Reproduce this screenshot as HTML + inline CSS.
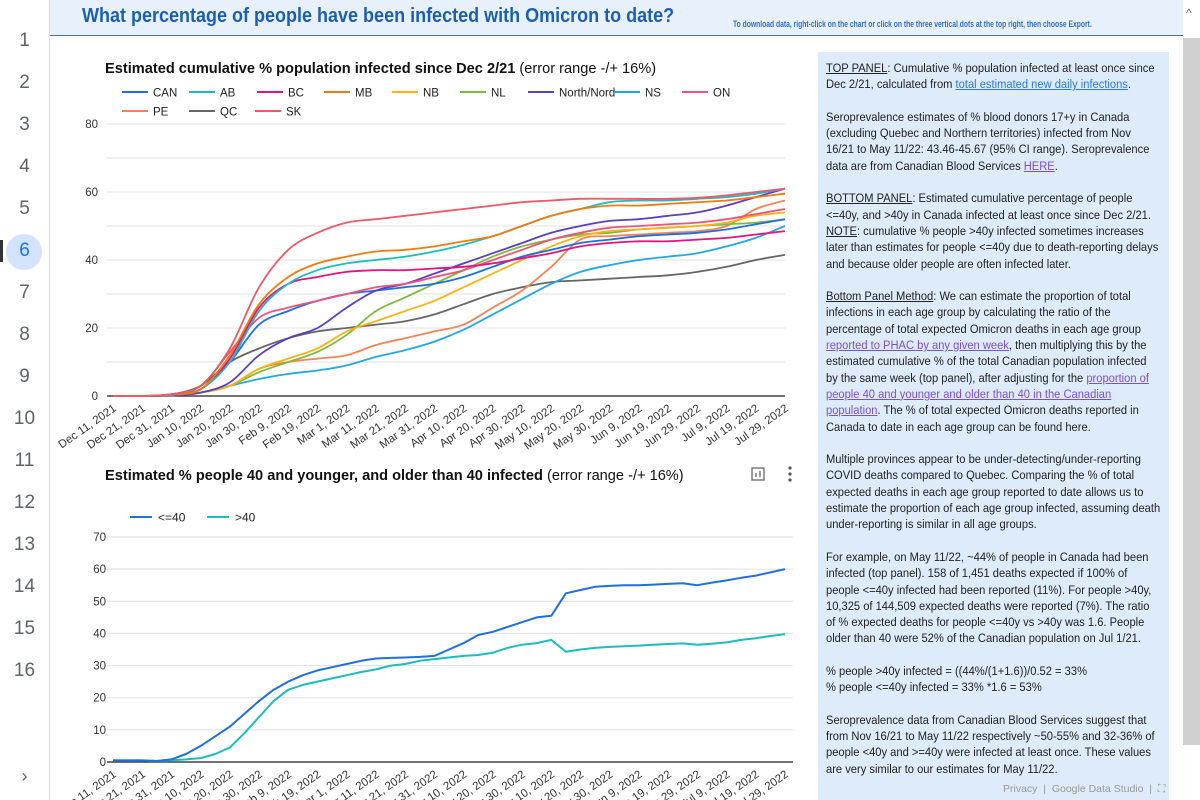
<!DOCTYPE html>
<html><head><meta charset="utf-8">
<style>
html,body{margin:0;padding:0;width:1200px;height:800px;overflow:hidden;background:#fff;font-family:"Liberation Sans",sans-serif;}
#side{position:absolute;left:0;top:0;width:49px;height:800px;border-right:1px solid #dadce0;background:#fff;}
.pn{position:absolute;left:0;width:49px;text-align:center;font-size:19px;color:#5f6368;}
#hdr{position:absolute;left:50px;top:0;width:1133px;height:35px;background:#e8f1fb;border-bottom:1.5px solid #4a6fa8;}
#hdr h1{position:absolute;left:32px;top:5px;margin:0;font-size:20px;color:#1a5fb4;font-weight:bold;font-family:"Liberation Sans",sans-serif;transform:scaleX(0.9);transform-origin:left;white-space:nowrap;}
#hdr .dl{position:absolute;left:683px;top:19px;font-size:9px;font-weight:bold;color:#2e6fc7;white-space:nowrap;transform:scaleX(0.75);transform-origin:left;}
#up{position:absolute;left:1186px;top:6px;font-size:12px;color:#666;}
#panel{position:absolute;left:818px;top:52px;width:351px;height:748px;background:#ddebfa;overflow:hidden;}
#panel .tx{position:absolute;left:8px;top:8px;width:372px;font-size:12.4px;line-height:16.3px;color:#222;transform:scaleX(0.9);transform-origin:left top;}
#panel p{margin:0 0 16.3px 0;}
#panel u{text-decoration:underline;}
#panel a{color:#7b4fd6;text-decoration:underline;}
#panel a.b{color:#2a7ae2;}
#scroll{position:absolute;left:1183px;top:38px;width:17px;height:707px;background:#d0d0d0;}
#foot{position:absolute;left:1003px;top:783px;font-size:10.5px;color:#999;z-index:5;white-space:nowrap;}
svg{position:absolute;left:0;top:0;}
</style></head><body>
<div id="side"></div>
<div id="hdr">
<h1>What percentage of people have been infected with Omicron to date?</h1>
<div class="dl">To download data, right-click on the chart or click on the three vertical dots at the top right, then choose Export.</div>
</div>
<div id="up">^</div>
<div id="panel"><div class="tx">
<p><u>TOP PANEL</u>: Cumulative % population infected at least once since Dec 2/21, calculated from <a class="b">total estimated new daily infections</a>.</p>
<p>Seroprevalence estimates of % blood donors 17+y in Canada (excluding Quebec and Northern territories) infected from Nov 16/21 to May 11/22: 43.46-45.67 (95% CI range). Seroprevalence data are from Canadian Blood Services <a>HERE</a>.</p>
<p><u>BOTTOM PANEL</u>: Estimated cumulative percentage of people &lt;=40y, and &gt;40y in Canada infected at least once since Dec 2/21. <u>NOTE</u>: cumulative % people &gt;40y infected sometimes increases later than estimates for people &lt;=40y due to death-reporting delays and because older people are often infected later.</p>
<p><u>Bottom Panel Method</u>: We can estimate the proportion of total infections in each age group by calculating the ratio of the percentage of total expected Omicron deaths in each age group <a>reported to PHAC by any given week</a>, then multiplying this by the estimated cumulative % of the total Canadian population infected by the same week (top panel), after adjusting for the <a>proportion of people 40 and younger and older than 40 in the Canadian population</a>. The % of total expected Omicron deaths reported in Canada to date in each age group can be found here.</p>
<p>Multiple provinces appear to be under-detecting/under-reporting COVID deaths compared to Quebec. Comparing the % of total expected deaths in each age group reported to date allows us to estimate the proportion of each age group infected, assuming death under-reporting is similar in all age groups.</p>
<p>For example, on May 11/22, ~44% of people in Canada had been infected (top panel). 158 of 1,451 deaths expected if 100% of people &lt;=40y infected had been reported (11%). For people &gt;40y, 10,325 of 144,509 expected deaths were reported (7%). The ratio of % expected deaths for people &lt;=40y vs &gt;40y was 1.6. People older than 40 were 52% of the Canadian population on Jul 1/21.</p>
<p>% people &gt;40y infected = ((44%/(1+1.6))/0.52 = 33%<br>% people &lt;=40y infected = 33% *1.6 = 53%</p>
<p>Seroprevalence data from Canadian Blood Services suggest that from Nov 16/21 to May 11/22 respectively ~50-55% and 32-36% of people &lt;40y and &gt;=40y were infected at least once. These values are very similar to our estimates for May 11/22.</p>
</div></div>
<div id="scroll"></div>
<div id="foot">Privacy &nbsp;|&nbsp; Google Data Studio &nbsp;| &nbsp;⛶</div>
<svg id="chart" width="1200" height="800" xmlns="http://www.w3.org/2000/svg"></svg>
<script>
const tickLabels = ["Dec 11, 2021","Dec 21, 2021","Dec 31, 2021","Jan 10, 2022","Jan 20, 2022","Jan 30, 2022","Feb 9, 2022","Feb 19, 2022","Mar 1, 2022","Mar 11, 2022","Mar 21, 2022","Mar 31, 2022","Apr 10, 2022","Apr 20, 2022","Apr 30, 2022","May 10, 2022","May 20, 2022","May 30, 2022","Jun 9, 2022","Jun 19, 2022","Jun 29, 2022","Jul 9, 2022","Jul 19, 2022","Jul 29, 2022"];
const seriesNames = ["CAN","AB","BC","MB","NB","NL","North/Nord","NS","ON","PE","QC","SK"];
const seriesColors = ["#1f6fe0","#1cbdc0","#e6127f","#f07b0f","#f9b413","#7dba3c","#5b3fbf","#21a8e8","#f0527a","#f78257","#666666","#ef5866"];
const valCAN = [0,0,0.4,2,10,21,25,28,30,31,32,33,35,38,41,43,45,46,47,47.5,48,49,50.5,52];
const valAB = [0,0,0.3,2,10,25,33,37,39,40,41,42.5,44.5,47,50,53,55,57,57.5,57.5,58,58.5,59.5,61];
const valBC = [0,0,0.3,2,11,26,33,35,36.5,37,37,37.5,38,39,40.5,42,44,45,45.5,45.5,46,46.5,47.5,48.5];
const valMB = [0,0,0.5,2,12,27,35,39,41,42.5,43,44,45.5,47,50,53,55,56,56,56.5,57,57.5,58.5,59.5];
const valNB = [0,0,0.2,1,3,8,11,14,19,22,25,28,32,36,40,44,47,48.5,49,49.5,50,51,53,54];
const valNL = [0,0,0.2,1,3,7,10,13,18,25,29,33,37,41,44,46,47.5,48,49,49.5,50,50.5,51,52];
const valNorth = [0,0,0.2,1,4,12,17,20,26,31,33,36,39,42,45,48,50,51.5,52,53,54,56,58.5,61];
const valNS = [0,0,0.2,1,3,5,6.5,7.5,9,11.5,13.5,16,19.5,24,28.5,33,36.5,38.5,40,41,42,44,46.5,50];
const valON = [0,0,0.5,3,13,23,26,28,30,32,33,35,37,40,43,46,48,49.5,50,50.5,51,52,53.5,55];
const valPE = [0,0,0.2,1,3,8,10,11,12,15,17,19,21,26,31,38,46,47,47.5,48,48.5,50,55,57.5];
const valQC = [0,0,0.5,3,10,14,17,19,20,21,22,24,27,30,32,33.5,34,34.5,35,35.5,36.5,38,40,41.5];
const valSK = [0,0,0.5,3,14,32,43,48,51,52,53,54,55,56,57,57.5,58,58,58,58,58.3,59,60,61];
const topYTicks = [0,20,40,60,80];
const ageNames = ["<=40",">40"];
const ageColors = ["#1f6fe0","#1cbdc0"];
// values every 5 days, Dec 11 2021 .. Jul 29 2022
const valUnder40 = [0.5,0.5,0.5,0.3,0.8,2.5,5,8,11,15,19,22.5,25,27,28.5,29.5,30.5,31.5,32.2,32.4,32.5,32.7,33,35,37,39.5,40.5,42,43.5,45,45.5,52.5,53.5,54.5,54.8,55,55,55.2,55.4,55.6,55,55.8,56.5,57.3,58,59,60];
const valOver40 = [0.5,0.5,0.5,0.3,0.5,0.8,1.2,2.5,4.5,9,14,19,22.5,24,25,26,27,28,28.8,30,30.5,31.5,32,32.5,33,33.3,34,35.5,36.5,37,38,34.3,35,35.5,35.8,36,36.2,36.5,36.7,36.9,36.5,36.8,37.2,38,38.5,39.2,39.8];
const botYTicks = [0,10,20,30,40,50,60,70];
const pageNums = [1,2,3,4,5,6,7,8,9,10,11,12,13,14,15,16];

const NS="http://www.w3.org/2000/svg";
const svg=document.getElementById('chart');
function mk(tag,attrs,parent){const e=document.createElementNS(NS,tag);for(const k in attrs)e.setAttribute(k,attrs[k]);(parent||svg).appendChild(e);return e;}
function txt(s,attrs,parent){const e=mk('text',attrs,parent);e.textContent=s;return e;}

const side=document.getElementById('side');
pageNums.forEach((n,i)=>{
  const y=42+i*42;
  if(n===6){const c=document.createElement('div');c.style.cssText='position:absolute;left:6px;top:'+(y-18)+'px;width:36px;height:36px;border-radius:50%;background:#d3e3fd;';
    
    
    side.appendChild(c);}
  const d=document.createElement('div');d.className='pn';d.style.top=(y-12)+'px';d.textContent=n;
  if(n===6)d.style.color='#1a73e8';
  
  
  side.appendChild(d);
});
const mark=document.createElement('div');mark.style.cssText='position:absolute;left:0;top:240px;width:3px;height:22px;background:#333;';


side.appendChild(mark);
const chev=document.createElement('div');chev.style.cssText='position:absolute;left:0;width:49px;top:766px;text-align:center;font-size:18px;color:#5f6368;';chev.textContent='›';


side.appendChild(chev);

function smoothPath(pts){
  let d='M'+pts[0][0]+','+pts[0][1];
  for(let i=0;i<pts.length-1;i++){
    const p0=pts[Math.max(0,i-1)],p1=pts[i],p2=pts[i+1],p3=pts[Math.min(pts.length-1,i+2)];
    const c1x=p1[0]+(p2[0]-p0[0])/6,c1y=p1[1]+(p2[1]-p0[1])/6;
    const c2x=p2[0]-(p3[0]-p1[0])/6,c2y=p2[1]-(p3[1]-p1[1])/6;
    d+=' C'+c1x.toFixed(1)+','+c1y.toFixed(1)+' '+c2x.toFixed(1)+','+c2y.toFixed(1)+' '+p2[0].toFixed(1)+','+p2[1].toFixed(1);
  }
  return d;
}
function xAxisLabels(g,xf,y0){
  tickLabels.forEach((t,i)=>{
    const x=xf(i);
    const e=txt(t,{x:x+4,y:y0+14,'text-anchor':'end','font-size':'11.5','fill':'#333',transform:'rotate(-35 '+(x+4)+' '+(y0+14)+')'},g);
    
    
  });
}

// ---- TOP CHART ----
const T={x0:113,x1:785,y0:396,yMax:80,ph:272};
const tx=i=>T.x0+i*(T.x1-T.x0)/(tickLabels.length-1);
const ty=v=>T.y0-v/T.yMax*T.ph;
const gTop=mk('g',{});


const tt=txt('',{x:105,y:73,'font-size':'14.6','fill':'#111'},gTop);
tt.innerHTML='<tspan font-weight="bold">Estimated cumulative % population infected since Dec 2/21</tspan> (error range -/+ 16%)';


topYTicks.forEach(v=>{
  const gl=mk('line',{x1:T.x0-6,x2:T.x1,y1:ty(v),y2:ty(v),stroke:v===0?'#444':'#e0e0e0','stroke-width':v===0?1.5:1},gTop);
  
  
  const l=txt(String(v),{x:98,y:ty(v)+4,'text-anchor':'end','font-size':'11.5','fill':'#333'},gTop);
  
  
});
[10,30,50,70].forEach(v=>{const gl=mk('line',{x1:T.x0-6,x2:T.x1,y1:ty(v),y2:ty(v),stroke:'#e0e0e0','stroke-width':1},gTop);
  
  });
xAxisLabels(gTop,tx,T.y0);
const topVals=[valCAN,valAB,valBC,valMB,valNB,valNL,valNorth,valNS,valON,valPE,valQC,valSK];
const drawOrder=[10,7,9,5,4,0,6,8,2,1,3,11];
drawOrder.forEach(k=>{
  const pts=topVals[k].map((v,i)=>[tx(i),ty(v)]);
  const p=mk('path',{d:smoothPath(pts),fill:'none',stroke:seriesColors[k],'stroke-width':1.8},gTop);
  
  
});
const legX=[122,189,257,324,392,460,528,614,682,122,189,255];
seriesNames.forEach((n,k)=>{
  const x=legX[k],y=k<9?92:111;
  const g=mk('g',{},gTop);
  
  
  mk('line',{x1:x,x2:x+26,y1:y,y2:y,stroke:seriesColors[k],'stroke-width':2},g);
  txt(n,{x:x+31,y:y+4.5,'font-size':'11.5','fill':'#222'},g);
});

// ---- BOTTOM CHART ----
const B={x0:113,x1:785,y0:762,yMax:70,ph:225};
const bxi=i=>B.x0+i*(B.x1-B.x0)/(tickLabels.length-1);
const bx=j=>B.x0+j*(B.x1-B.x0)/(valUnder40.length-1);
const by=v=>B.y0-v/B.yMax*B.ph;
const gBot=mk('g',{});


const bt=txt('',{x:105,y:480,'font-size':'14.6','fill':'#111'},gBot);
bt.innerHTML='<tspan font-weight="bold">Estimated % people 40 and younger, and older than 40 infected</tspan> (error range -/+ 16%)';


const ic=mk('g',{},gBot);


mk('rect',{x:752,y:468,width:12,height:12,fill:'none',stroke:'#666','stroke-width':1.3},ic);
mk('line',{x1:756,x2:756,y1:477,y2:473,stroke:'#666','stroke-width':1.3},ic);
mk('line',{x1:760,x2:760,y1:477,y2:471,stroke:'#666','stroke-width':1.3},ic);
const dots=mk('g',{},gBot);


[468,474,480].forEach(y=>mk('circle',{cx:790,cy:y,r:1.6,fill:'#555'},dots));
botYTicks.forEach(v=>{
  const gl=mk('line',{x1:B.x0-6,x2:B.x1+8,y1:by(v),y2:by(v),stroke:v===0?'#444':'#e0e0e0','stroke-width':v===0?1.5:1},gBot);
  
  
  const l=txt(String(v),{x:106,y:by(v)+4,'text-anchor':'end','font-size':'11.5','fill':'#333'},gBot);
  
  
});
xAxisLabels(gBot,bxi,B.y0);
[valOver40,valUnder40].forEach((arr,k)=>{
  const ci=k===0?1:0;
  const d=arr.map((v,j)=>(j?'L':'M')+bx(j).toFixed(1)+','+by(v).toFixed(1)).join(' ');
  const p=mk('path',{d:d,fill:'none',stroke:ageColors[ci],'stroke-width':2,'stroke-linejoin':'round'},gBot);
  
  
});
[[130,0],[207,1]].forEach(([x,k])=>{
  const g=mk('g',{},gBot);
  
  
  mk('line',{x1:x,x2:x+22,y1:517,y2:517,stroke:ageColors[k],'stroke-width':2},g);
  txt(ageNames[k],{x:x+28,y:521.5,'font-size':'12','fill':'#222'},g);
});
</script>
</body></html>
